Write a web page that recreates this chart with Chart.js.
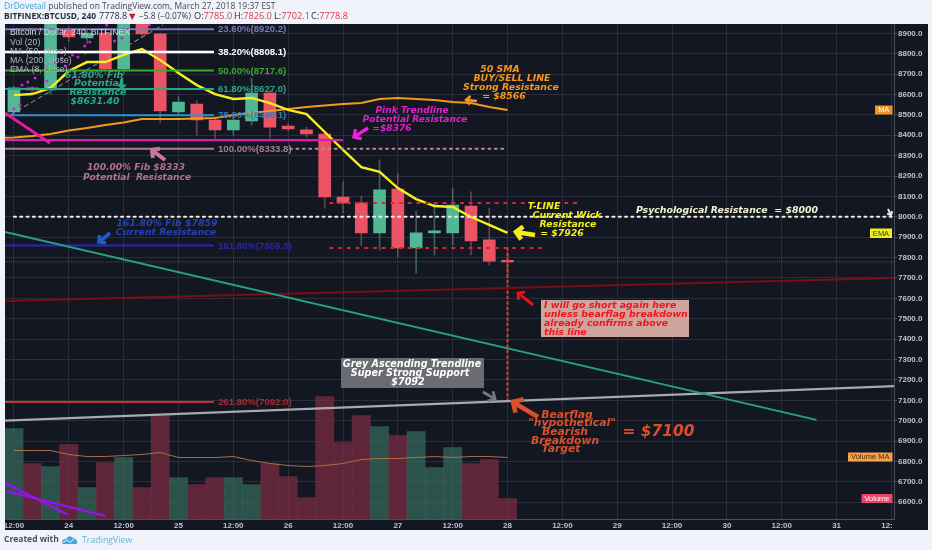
<!DOCTYPE html>
<html><head><meta charset="utf-8">
<style>html,body{margin:0;padding:0;background:#f0f3fa;overflow:hidden}canvas{display:block}</style>
<script src="https://cdn.jsdelivr.net/npm/chart.js@4"></script></head>
<body><canvas id="c" width="932" height="550"></canvas>
<script>
// ---- data (x = 4h candle number, 0 = Mar 23 12:00) ----
const tickLabels=['12:00','24','12:00','25','12:00','26','12:00','27','12:00','28','12:00','29','12:00','30','12:00','31','12:'];
const opens =[8514,8632,8622,8916,8877,8901,8725,8960,8897,8514,8553,8475,8426,8470,8607,8445,8426,8406,8097,8068,7921,8136,7847,7921,7921,8053,7887,7785];
const closes=[8632,8622,8960,8882,8901,8725,8960,8897,8519,8563,8475,8426,8475,8607,8440,8431,8406,8097,8068,7921,8132,7847,7921,7931,8058,7882,7783,7778.8];
const highs =[8640,8640,8990,8930,8920,8925,8990,8975,8900,8590,8570,8490,8490,8680,8620,8460,8440,8410,8171,8102,8279,8215,8029,8068,8141,8122,8043,7826];
const lows  =[8505,8610,8600,8860,8850,8700,8700,8880,8460,8500,8400,8380,8400,8450,8385,8420,8390,8043,8019,7857,7837,7803,7724,7813,7862,7813,7764,7702.1];
const volumes=[910,560,530,750,320,570,620,320,1040,420,350,420,420,350,560,430,220,1230,770,1040,930,840,880,520,720,560,600,210];
const volumeMA=[690,690,690,650,630,630,640,650,670,620,620,620,630,590,560,540,530,540,560,600,610,610,620,630,620,630,630,620];
const ema8=[8597,8602,8632,8715,8759,8759,8794,8823,8769,8705,8646,8602,8578,8583,8558,8524,8504,8416,8328,8244,8220,8141,8087,8053,8048,7999,7960,7921];
const ma50Start=-1;
const ma50=[8387,8389,8396,8406,8423,8436,8450,8463,8480,8480,8480,8482,8485,8499,8509,8519,8529,8539,8546,8553,8558,8578,8583,8578,8573,8563,8558,8539,8524];
const fibPct=['23.60%','38.20%','50.00%','61.80%','78.60%','100.00%','161.80%','261.80%'];
const fibLevels=[8920.2,8808.1,8717.6,8627.0,8498.1,8333.8,7859.3,7092.0];
const fibEnd=10.94;
const dotX=[0,.33,.44,.76,1.15,1.25,1.8,1.8,2.24,2.62,2.8,3.2,3.5,3.87,3.9,4.15,5.07,5.5,5.9,7.4];
const dotY=[8529,8548,8646,8661,8681,8720,8666,8730,8759,8779,8740,8794,8784,8838,8804,8857,8941,8862,8877,8941];
const xMin=-0.49, xMax=48.14;
const tealX=[xMin,43.9], tealY=[7926,7004];
const greyX=[xMin,xMax], greyY=[7000,7170];
const darkRedX=[xMin,xMax], darkRedY=[7587,7700];
const pinkX=[xMin,18], pinkY=[8376,8376];
const hotX=[xMin,1.97], hotY=[8509,8362];
const diagX=[-0.2,8.15], diagY=[8500,8941];
const purple1X=[-0.44,2.95], purple1Y=[6694,6538];
const purple2X=[-0.44,4.98], purple2Y=[6655,6533];
const lastPrice=7778.8;

const UP='#52b795',DN='#ec5466';
const idx=opens.map((_,i)=>i);
const up=idx.map(i=>closes[i]>=opens[i]);
const pts=(xs,ys)=>xs.map((x,i)=>({x,y:ys[i]}));
const seg=(xs,ys,color,width,extra={})=>({type:'line',data:pts(xs,ys),borderColor:color,borderWidth:width,pointRadius:0,tension:0,order:2,yAxisID:'y',...extra});
const FIBC=['#7a78b8','#ffffff','#3fa92c','#2aa686','#2f8fd0','#a97d97','#2a24c0','#c23030'];
const FIBT=['#7a78b8','#ffffff','#3fa92c','#2aa686','#2f7fc0','#a97d97','#2a24b0','#a82a2e'];
const dots={borderCapStyle:'round'};

const datasets=[
 {type:'bar',data:idx.map(i=>({x:i,y:volumes[i]})),yAxisID:'yv',grouped:false,barThickness:18.3,borderSkipped:false,order:9,
  backgroundColor:idx.map(i=>up[i]?'rgba(54,107,91,.72)':'rgba(125,44,66,.72)')},
 seg(idx,volumeMA,'#b9764a',0.9,{yAxisID:'yv',order:8}),
 {type:'bar',data:idx.map(i=>({x:i,y:[lows[i],highs[i]]})),grouped:false,barThickness:1,borderSkipped:false,order:7,
  backgroundColor:idx.map(i=>up[i]?'rgba(110,150,140,.55)':'rgba(150,95,110,.6)')},
 {type:'bar',data:idx.map(i=>({x:i,y:[opens[i],closes[i]]})),grouped:false,barThickness:12,minBarLength:1.5,borderSkipped:false,order:6,
  backgroundColor:idx.map(i=>up[i]?UP:DN)},
 seg([xMin,xMax],[lastPrice,lastPrice],'rgba(190,110,130,.55)',1,{borderDash:[1,1],order:5}),
 seg(idx,ema8,'#f5ef1d',2.4,{order:3}),
 seg(ma50.map((_,i)=>i+ma50Start),ma50,'#f29a1c',2,{order:3}),
 seg(diagX,diagY,'#9a9a9a',1,{borderDash:[5,3],order:4}),
 {type:'scatter',data:pts(dotX,dotY),pointRadius:1.5,pointBackgroundColor:'#e01bd0',pointBorderWidth:0,showLine:false,order:4,yAxisID:'y'},
 seg(tealX,tealY,'#27a184',2),
 seg(greyX,greyY,'#a9aab0',2.2),
 seg(darkRedX,darkRedY,'#7a0e16',2.2),
 seg(pinkX,pinkY,'#e019b4',2.2),
 seg(hotX,hotY,'#e8199a',3),
 seg(purple1X,purple1Y,'#9214e6',2.4),
 seg(purple2X,purple2Y,'#9214e6',2.4),
 ...fibLevels.map((v,i)=>seg([xMin,fibEnd],[v,v],FIBC[i],i===1?2.4:2)),
 seg([15.1,27],[fibLevels[5],fibLevels[5]],'#b9889f',2,{borderDash:[2,4.4],...dots}),
 seg([0,xMax],[8000,8000],'#f1f1e4',2,{borderDash:[2,4.3],...dots}),
 seg([17.3,30.8],[8068,8068],'#d8272f',2,{borderDash:[2.4,6.3],...dots}),
 seg([17.3,28.9],[7847,7847],'#d8272f',2,{borderDash:[2.4,6.3],...dots}),
 seg([27,27],[7847,7100],'#d8402f',2,{borderDash:[2,3.4],...dots}),
];

const BI='italic bold ', DJ='"DejaVu Sans"';
function T(c,s,x,y,col,font,al='center'){c.font=font;c.fillStyle=col;c.textAlign=al;c.textBaseline='middle';c.fillText(s,x,y);}
function A(c,x1,y1,x2,y2,col,w,h){
 c.save();c.strokeStyle=col;c.lineWidth=w;c.lineCap='butt';c.lineJoin='miter';
 const a=Math.atan2(y2-y1,x2-x1);
 c.beginPath();c.moveTo(x1,y1);c.lineTo(x2-Math.cos(a)*w*.6,y2-Math.sin(a)*w*.6);c.stroke();
 c.beginPath();c.moveTo(x2-h*Math.cos(a-.8),y2-h*Math.sin(a-.8));c.lineTo(x2,y2);c.lineTo(x2-h*Math.cos(a+.8),y2-h*Math.sin(a+.8));c.stroke();
 c.restore();
}
function Tag(c,x,y,w,h,bg,s,col){c.fillStyle=bg;c.fillRect(x,y,w,h);T(c,s,x+w/2,y+h/2+.3,col,'7.5px "Liberation Sans"');}

const frame={id:'frame',
 beforeDraw(ch){const c=ch.ctx;c.save();c.fillStyle='#f0f3fa';c.fillRect(0,0,932,550);c.fillStyle='#131722';c.fillRect(5,24,923,506);c.restore();},
 afterDatasetsDraw(ch){const c=ch.ctx,sy=ch.scales.y;c.save();
  // chart-title rows
  T(c,'Bitcoin / Dollar, 240, BITFINEX',10,33,'#d6d8de','8.8px "Liberation Sans"','left');
  T(c,'Vol (20)',10,42.3,'#b2b5be','8.8px "Liberation Sans"','left');
  T(c,'MA (50, close)',10,51.5,'#b2b5be','8.8px "Liberation Sans"','left');
  T(c,'MA (200, close)',10,61,'#b2b5be','8.8px "Liberation Sans"','left');
  T(c,'EMA (8, close)',10,70,'#b2b5be','8.8px "Liberation Sans"','left');
  // fib labels
  fibLevels.forEach((v,i)=>T(c,fibPct[i]+'('+v.toFixed(1)+')',218,sy.getPixelForValue(v)+.5,FIBT[i],'bold 9.6px "Liberation Sans"','left'));
  // annotations
  const f9=BI+'9.4px '+DJ, f8=BI+'9.1px '+DJ;
  ['61.80% Fib','Potential','Resistance','$8631.40'].forEach((s,i)=>T(c,s,[94,98,98,95][i],[75.5,84,93,102][i],'#27a88a',f9));
  A(c,122,78,122,88,'#27a88a',2.2,5);
  ['100.00% Fib $8333','Potential  Resistance'].forEach((s,i)=>T(c,s,[136,137][i],168+i*9.3,'#b5708f',f8));
  A(c,165,160,152,150,'#c9779f',4,8);
  ['Pink Trendline','Potential Resistance','=$8376'].forEach((s,i)=>T(c,s,[412,415,392][i],111+i*9,'#e020d0',f8));
  A(c,368,128,354,137,'#f01ee0',3.4,8);
  ['50 SMA','BUY/SELL LINE','Strong Resistance','= $8566'].forEach((s,i)=>T(c,s,[500,512,511,504][i],70+i*8.8,'#f5941e',f9));
  A(c,477,101,466,100,'#f5941e',2.6,6);
  T(c,'T-LINE',544,206.5,'#f2ef1a',f9);
  ['Current Wick','Resistance','= $7926'].forEach((s,i)=>T(c,s,[567,568,562][i],216+i*8.8,'#f2ef1a',f9));
  A(c,535,235,516,232,'#f2ef1a',4.6,9);
  T(c,'Psychological Resistance  = $8000',727,211,'#f2f2d2',BI+'9.4px '+DJ);
  A(c,888,209,891,215,'#f1f1e4',2,4);
  ['161.80% Fib $7859','Current Resistance'].forEach((s,i)=>T(c,s,[167,166][i],223.5+i*9,'#2340b8',f9));
  A(c,110,233,99,242,'#1a5fd0',3.6,7);
  // boxed notes
  c.fillStyle='#cfa49c';c.fillRect(541,300,148,37);
  ['I will go short again here','unless bearflag breakdown','already confirms above','this line'].forEach((s,i)=>T(c,s,544,306+i*8.8,'#f0141e',f9,'left'));
  A(c,533,305,518,293,'#e8101a',3,7);
  c.fillStyle='#6a6c71';c.fillRect(341,358,143,30);
  ['Grey Ascending Trendline','Super Strong Support','$7092'].forEach((s,i)=>T(c,s,[412,410,408][i],364.5+i*8.8,'#ffffff',BI+'9.6px '+DJ));
  A(c,483,392,495,399,'#7c7c7c',2.8,8);
  A(c,538,417,513,402,'#d9502a',4.6,11);
  ['Bearflag','"hypothetical"','Bearish','Breakdown','Target'].forEach((s,i)=>T(c,s,[567,572,565,565,561][i],415+i*8.6,'#d9502a',BI+'10.8px '+DJ));
  T(c,'= $7100',658.5,432,'#d9502a',BI+'15.4px '+DJ);
  // price tags
  Tag(c,875,105.5,17.5,9,'#f0941e','MA','#fff');
  Tag(c,870,228.5,22,9.5,'#eef01e','EMA','#333');
  Tag(c,848,452.5,44.5,9,'#f5a04a','Volume MA','#4a2a10');
  Tag(c,861.5,494,31,9,'#e8476a','Volume','#fff');
  c.restore();
 },
 afterDraw(ch){const c=ch.ctx;c.save();
  let x=4;const run=(s,col,font)=>{c.font=font;c.fillStyle=col;c.textAlign='left';c.textBaseline='middle';c.fillText(s,x,y);x+=c.measureText(s).width;};
  let y=6.5;
  run('DrDovetail','#3f9fd8','8.5px "Open Sans"');
  run(' published on TradingView.com, March 27, 2018 19:37 EST','#444a55','8.5px "Open Sans"');
  y=16.5;x=4;
  run('BITFINEX:BTCUSD, 240 ','#2a2e39','bold 8.4px "Open Sans"');
  x=99;run('7778.8','#2a2e39','9px "Open Sans"');
  x=129;run('▼','#c0202a','8.4px "DejaVu Sans"');
  x=139;run('−5.8 (−0.07%)','#333a45','8.4px "Open Sans"');
  ['O:','H:','L:','C:'].forEach((k,i)=>{x=[194,234,274,311][i];run(k,'#2a2e39','9.2px "Open Sans"');run(['7785.0','7826.0','7702.1','7778.8'][i],'#d8404a','9.2px "Open Sans"');});
  y=540;x=4;run('Created with','#4a505c','bold 8.5px "Open Sans"');
  c.fillStyle='#45a5dc';c.beginPath();c.moveTo(62,544);c.quadraticCurveTo(61,539,66,539);c.quadraticCurveTo(69,534,73,538);c.quadraticCurveTo(78,539,77,544);c.closePath();c.fill();
  c.strokeStyle='#f0f3fa';c.lineWidth=1;c.beginPath();c.moveTo(62,543);c.lineTo(67,540);c.lineTo(70,542.5);c.lineTo(74,539);c.stroke();
  x=82;run('TradingView','#68b3e2','8.8px "Open Sans"');
  c.restore();
 }
};

new Chart(document.getElementById('c'),{
 data:{datasets},
 plugins:[frame],
 options:{responsive:false,animation:false,devicePixelRatio:1,
  layout:{autoPadding:false,padding:{left:5,top:24,right:4,bottom:20}},
  plugins:{legend:{display:false},tooltip:{enabled:false}},
  scales:{
   x:{type:'linear',offset:false,min:xMin,max:xMax,afterFit(s){s.height=10.5;s.paddingLeft=0;s.paddingRight=0;},
     border:{color:'#4c505c',width:1},
     grid:{color:'#2a2e3a',drawTicks:false,offset:false},
     ticks:{stepSize:3,includeBounds:false,autoSkip:false,maxRotation:0,minRotation:0,padding:1,color:'#c0c3cb',font:{family:'Liberation Sans',size:8,weight:'bold'},
       callback(v){const s=tickLabels[Math.round(v/3)];return s==='12:'?s+'\u00a0'.repeat(4):s;}}},
   y:{type:'linear',position:'right',min:6515.5,max:8945.6,afterFit(s){s.width=34;s.paddingTop=0;s.paddingBottom=0;},
     border:{color:'#4c505c',width:1},
     grid:{color:'#2a2e3a',tickLength:3,tickColor:'#4c505c'},
     ticks:{stepSize:100,includeBounds:false,autoSkip:false,padding:1,color:'#c0c3cb',font:{family:'Liberation Sans',size:8,weight:'bold'},callback:v=>v.toFixed(1)}},
   yv:{type:'linear',display:false,min:0,max:4955}
  }
 }
});
</script></body></html>
